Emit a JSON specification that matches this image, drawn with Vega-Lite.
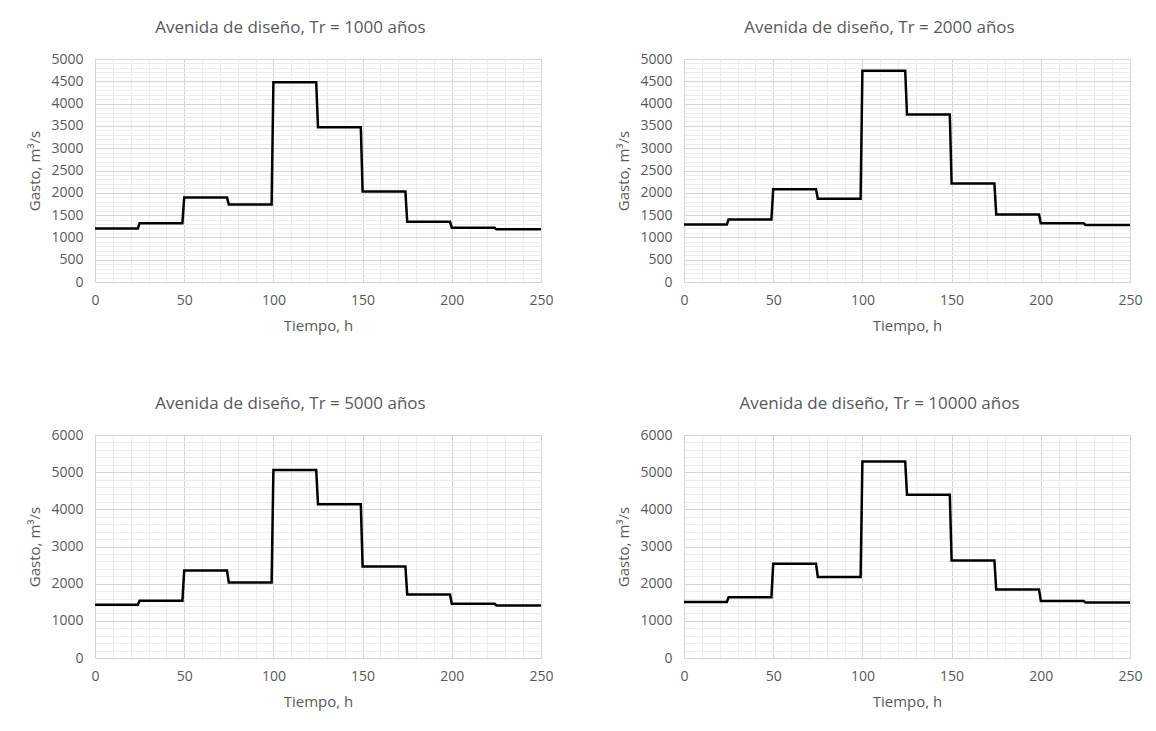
{
  "$schema": "https://vega.github.io/schema/vega-lite/v6.json",
  "background": "white",
  "padding": {"left": 27, "top": 19, "right": 5, "bottom": 5},
  "config": {
    "font": "Open Sans",
    "view": {"stroke": null},
    "axis": {
      "labelColor": "#595959", "labelFontSize": 14, "labelPadding": 11, "labelFlush": false,
      "titleColor": "#595959", "titleFontSize": 15, "titleFontWeight": "normal", "titlePadding": 8,
      "domainColor": "#d4d4d4", "ticks": false, "gridColor": "#d4d4d4", "gridOpacity": 1
    },
    "axisX": {"titlePadding": 11},
    "axisY": {"format": "d", "labelPadding": 12},
    "title": {"fontSize": 17, "fontWeight": "normal", "color": "#595959", "frame": "bounds", "anchor": "middle", "offset": 15}
  },
  "datasets": {
    "tr1000": [
      {"t": 0, "q": 1200}, {"t": 24, "q": 1200}, {"t": 25, "q": 1320}, {"t": 49, "q": 1320},
      {"t": 50, "q": 1895}, {"t": 74, "q": 1895}, {"t": 75, "q": 1740}, {"t": 99, "q": 1740},
      {"t": 100, "q": 4480}, {"t": 124, "q": 4480}, {"t": 125, "q": 3470}, {"t": 149, "q": 3470},
      {"t": 150, "q": 2030}, {"t": 174, "q": 2030}, {"t": 175, "q": 1350}, {"t": 199, "q": 1350},
      {"t": 200, "q": 1215}, {"t": 224, "q": 1215}, {"t": 225, "q": 1180}, {"t": 250, "q": 1180}
    ],
    "tr2000": [
      {"t": 0, "q": 1290}, {"t": 24, "q": 1290}, {"t": 25, "q": 1400}, {"t": 49, "q": 1400},
      {"t": 50, "q": 2080}, {"t": 74, "q": 2080}, {"t": 75, "q": 1865}, {"t": 99, "q": 1865},
      {"t": 100, "q": 4735}, {"t": 124, "q": 4735}, {"t": 125, "q": 3755}, {"t": 149, "q": 3755},
      {"t": 150, "q": 2210}, {"t": 174, "q": 2210}, {"t": 175, "q": 1515}, {"t": 199, "q": 1515},
      {"t": 200, "q": 1320}, {"t": 224, "q": 1320}, {"t": 225, "q": 1280}, {"t": 250, "q": 1280}
    ],
    "tr5000": [
      {"t": 0, "q": 1435}, {"t": 24, "q": 1435}, {"t": 25, "q": 1540}, {"t": 49, "q": 1540},
      {"t": 50, "q": 2355}, {"t": 74, "q": 2355}, {"t": 75, "q": 2030}, {"t": 99, "q": 2030},
      {"t": 100, "q": 5055}, {"t": 124, "q": 5055}, {"t": 125, "q": 4140}, {"t": 149, "q": 4140},
      {"t": 150, "q": 2460}, {"t": 174, "q": 2460}, {"t": 175, "q": 1710}, {"t": 199, "q": 1710},
      {"t": 200, "q": 1460}, {"t": 224, "q": 1460}, {"t": 225, "q": 1415}, {"t": 250, "q": 1415}
    ],
    "tr10000": [
      {"t": 0, "q": 1510}, {"t": 24, "q": 1510}, {"t": 25, "q": 1635}, {"t": 49, "q": 1635},
      {"t": 50, "q": 2535}, {"t": 74, "q": 2535}, {"t": 75, "q": 2180}, {"t": 99, "q": 2180},
      {"t": 100, "q": 5285}, {"t": 124, "q": 5285}, {"t": 125, "q": 4395}, {"t": 149, "q": 4395},
      {"t": 150, "q": 2625}, {"t": 174, "q": 2625}, {"t": 175, "q": 1840}, {"t": 199, "q": 1840},
      {"t": 200, "q": 1535}, {"t": 224, "q": 1535}, {"t": 225, "q": 1490}, {"t": 250, "q": 1490}
    ]
  },
  "columns": 2,
  "spacing": {"row": 153, "column": 143},
  "bounds": "flush",
  "concat": [
    {
      "width": 446, "height": 223,
      "title": {"text": "Avenida de diseño, Tr = 1000 años"},
      "data": {"name": "tr1000"},
      "layer": [
        {"mark": {"type": "line", "opacity": 0}, "encoding": {
          "x": {"field": "t", "type": "quantitative", "scale": {"domain": [0, 250], "nice": false}, "axis": {"orient": "bottom", "tickCount": 25, "grid": true, "gridColor": "#ececec", "labels": false, "domain": false, "title": null}},
          "y": {"field": "q", "type": "quantitative", "scale": {"domain": [0, 5000], "nice": false}, "axis": {"orient": "left", "tickCount": 50, "grid": true, "gridColor": "#ececec", "labels": false, "domain": false, "title": null}}}},
        {"mark": {"type": "line", "color": "black", "strokeWidth": 2.5}, "encoding": {
          "x": {"field": "t", "type": "quantitative", "scale": {"domain": [0, 250], "nice": false}, "axis": {"orient": "bottom", "tickCount": 5, "grid": true, "title": "Tiempo, h"}},
          "y": {"field": "q", "type": "quantitative", "scale": {"domain": [0, 5000], "nice": false}, "axis": {"orient": "left", "tickCount": 10, "grid": true, "title": "Gasto, m³/s"}}}}
      ],
      "resolve": {"axis": {"x": "independent", "y": "independent"}}
    },
    {
      "width": 446, "height": 223,
      "title": {"text": "Avenida de diseño, Tr = 2000 años"},
      "data": {"name": "tr2000"},
      "layer": [
        {"mark": {"type": "line", "opacity": 0}, "encoding": {
          "x": {"field": "t", "type": "quantitative", "scale": {"domain": [0, 250], "nice": false}, "axis": {"orient": "bottom", "tickCount": 25, "grid": true, "gridColor": "#ececec", "labels": false, "domain": false, "title": null}},
          "y": {"field": "q", "type": "quantitative", "scale": {"domain": [0, 5000], "nice": false}, "axis": {"orient": "left", "tickCount": 50, "grid": true, "gridColor": "#ececec", "labels": false, "domain": false, "title": null}}}},
        {"mark": {"type": "line", "color": "black", "strokeWidth": 2.5}, "encoding": {
          "x": {"field": "t", "type": "quantitative", "scale": {"domain": [0, 250], "nice": false}, "axis": {"orient": "bottom", "tickCount": 5, "grid": true, "title": "Tiempo, h"}},
          "y": {"field": "q", "type": "quantitative", "scale": {"domain": [0, 5000], "nice": false}, "axis": {"orient": "left", "tickCount": 10, "grid": true, "title": "Gasto, m³/s"}}}}
      ],
      "resolve": {"axis": {"x": "independent", "y": "independent"}}
    },
    {
      "width": 446, "height": 223,
      "title": {"text": "Avenida de diseño, Tr = 5000 años"},
      "data": {"name": "tr5000"},
      "layer": [
        {"mark": {"type": "line", "opacity": 0}, "encoding": {
          "x": {"field": "t", "type": "quantitative", "scale": {"domain": [0, 250], "nice": false}, "axis": {"orient": "bottom", "tickCount": 25, "grid": true, "gridColor": "#ececec", "labels": false, "domain": false, "title": null}},
          "y": {"field": "q", "type": "quantitative", "scale": {"domain": [0, 6000], "nice": false}, "axis": {"orient": "left", "tickCount": 30, "grid": true, "gridColor": "#ececec", "labels": false, "domain": false, "title": null}}}},
        {"mark": {"type": "line", "color": "black", "strokeWidth": 2.5}, "encoding": {
          "x": {"field": "t", "type": "quantitative", "scale": {"domain": [0, 250], "nice": false}, "axis": {"orient": "bottom", "tickCount": 5, "grid": true, "title": "Tiempo, h"}},
          "y": {"field": "q", "type": "quantitative", "scale": {"domain": [0, 6000], "nice": false}, "axis": {"orient": "left", "tickCount": 6, "grid": true, "title": "Gasto, m³/s"}}}}
      ],
      "resolve": {"axis": {"x": "independent", "y": "independent"}}
    },
    {
      "width": 446, "height": 223,
      "title": {"text": "Avenida de diseño, Tr = 10000 años"},
      "data": {"name": "tr10000"},
      "layer": [
        {"mark": {"type": "line", "opacity": 0}, "encoding": {
          "x": {"field": "t", "type": "quantitative", "scale": {"domain": [0, 250], "nice": false}, "axis": {"orient": "bottom", "tickCount": 25, "grid": true, "gridColor": "#ececec", "labels": false, "domain": false, "title": null}},
          "y": {"field": "q", "type": "quantitative", "scale": {"domain": [0, 6000], "nice": false}, "axis": {"orient": "left", "tickCount": 30, "grid": true, "gridColor": "#ececec", "labels": false, "domain": false, "title": null}}}},
        {"mark": {"type": "line", "color": "black", "strokeWidth": 2.5}, "encoding": {
          "x": {"field": "t", "type": "quantitative", "scale": {"domain": [0, 250], "nice": false}, "axis": {"orient": "bottom", "tickCount": 5, "grid": true, "title": "Tiempo, h"}},
          "y": {"field": "q", "type": "quantitative", "scale": {"domain": [0, 6000], "nice": false}, "axis": {"orient": "left", "tickCount": 6, "grid": true, "title": "Gasto, m³/s"}}}}
      ],
      "resolve": {"axis": {"x": "independent", "y": "independent"}}
    }
  ]
}
